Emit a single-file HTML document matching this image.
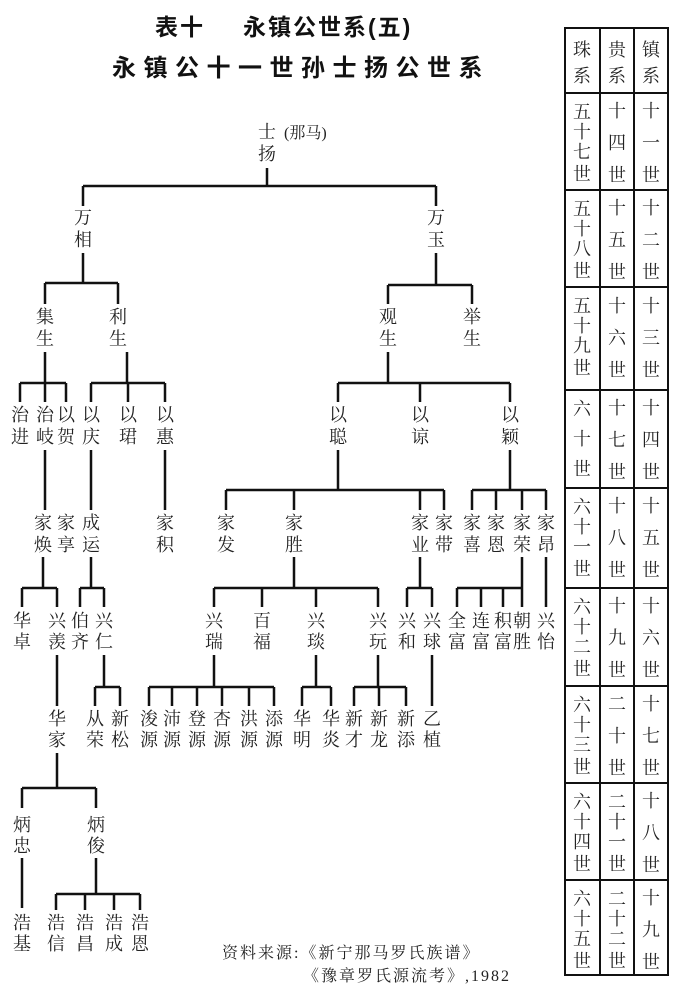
<!DOCTYPE html>
<html><head><meta charset="utf-8"><style>
html,body{margin:0;padding:0;background:#fff;}
svg{display:block}
text{font-family:"Liberation Serif","Noto Serif CJK SC",serif;fill:#222;}
.n{font-size:18px;text-anchor:middle;dominant-baseline:central;}
.t{font-family:"Liberation Sans","Noto Sans CJK SC",sans-serif;font-weight:bold;fill:#111;}
</style></head><body>
<svg width="675" height="1000" viewBox="0 0 675 1000" xmlns="http://www.w3.org/2000/svg">
<rect width="675" height="1000" fill="#fff"/>
<text class="t" x="155" y="35" font-size="23" letter-spacing="2">表十</text>
<text class="t" x="243" y="35" font-size="23" letter-spacing="2">永镇公世系(五)</text>
<text class="t" x="112" y="76" font-size="24" letter-spacing="7.5">永镇公十一世孙士扬公世系</text>

<g stroke="#111" stroke-width="2.5" fill="none">
<path d="M267 168V186M83 186H436M83 186V206M436 186V206"/>
<path d="M83 253V283M45 283H118M45 283V304M118 283V304"/>
<path d="M436 253V285M388 285H472M388 285V304M472 285V304"/>
<path d="M45 352V383M20 383H66M20 383V402M45 383V402M66 383V402"/>
<path d="M127 352V383M91 383H165M91 383V402M128 383V402M165 383V402"/>
<path d="M388 352V383M338 383H510M338 383V402M420 383V402M510 383V402"/>
<path d="M45 450V510M91 450V510M165 450V510"/>
<path d="M338 450V490M226 490H444M226 490V510M294 490V510M420 490V510M444 490V510"/>
<path d="M510 450V490M472 490H546M472 490V510M496 490V510M522 490V510M546 490V510"/>
<path d="M43 557V588M22 588H57M22 588V607M57 588V607"/>
<path d="M91 557V588M80 588H104M80 588V607M104 588V607"/>
<path d="M294 557V588M214 588H378M214 588V607M262 588V607M316 588V607M378 588V607"/>
<path d="M420 557V588M407 588H432M407 588V607M432 588V607"/>
<path d="M522 557V607M457 588H522M457 588V607M481 588V607M503 588V607"/>
<path d="M546 557V607"/>
<path d="M57 655V706M432 655V706"/>
<path d="M104 655V687M95 687H120M95 687V706M120 687V706"/>
<path d="M214 655V687M149 687H274M149 687V706M172 687V706M197 687V706M222 687V706M249 687V706M274 687V706"/>
<path d="M316 655V687M302 687H331M302 687V706M331 687V706"/>
<path d="M378 655V687M354 687H406M354 687V706M379 687V706M406 687V706"/>
<path d="M57 753V788M22 788H96M22 788V808M96 788V808"/>
<path d="M22 858V908M96 858V894M56 894H140M56 894V910M85 894V910M114 894V910M140 894V910"/>
</g>

<text class="n" x="267" y="132">士<tspan x="267" dy="22">扬</tspan></text>
<text x="284" y="138" font-size="16" style="text-anchor:start">(那马)</text>
<g>
<text class="n" x="83" y="218">万<tspan x="83" dy="22">相</tspan></text>
<text class="n" x="436" y="218">万<tspan x="436" dy="22">玉</tspan></text>
<text class="n" x="45" y="317">集<tspan x="45" dy="22">生</tspan></text>
<text class="n" x="118" y="317">利<tspan x="118" dy="22">生</tspan></text>
<text class="n" x="388" y="317">观<tspan x="388" dy="22">生</tspan></text>
<text class="n" x="472" y="317">举<tspan x="472" dy="22">生</tspan></text>
<text class="n" x="20" y="415">治<tspan x="20" dy="22">进</tspan></text>
<text class="n" x="45" y="415">治<tspan x="45" dy="22">岐</tspan></text>
<text class="n" x="66" y="415">以<tspan x="66" dy="22">贺</tspan></text>
<text class="n" x="91" y="415">以<tspan x="91" dy="22">庆</tspan></text>
<text class="n" x="128" y="415">以<tspan x="128" dy="22">珺</tspan></text>
<text class="n" x="165" y="415">以<tspan x="165" dy="22">惠</tspan></text>
<text class="n" x="338" y="415">以<tspan x="338" dy="22">聪</tspan></text>
<text class="n" x="420" y="415">以<tspan x="420" dy="22">谅</tspan></text>
<text class="n" x="510" y="415">以<tspan x="510" dy="22">颖</tspan></text>
<text class="n" x="43" y="523">家<tspan x="43" dy="22">焕</tspan></text>
<text class="n" x="66" y="523">家<tspan x="66" dy="22">享</tspan></text>
<text class="n" x="91" y="523">成<tspan x="91" dy="22">运</tspan></text>
<text class="n" x="165" y="523">家<tspan x="165" dy="22">积</tspan></text>
<text class="n" x="226" y="523">家<tspan x="226" dy="22">发</tspan></text>
<text class="n" x="294" y="523">家<tspan x="294" dy="22">胜</tspan></text>
<text class="n" x="420" y="523">家<tspan x="420" dy="22">业</tspan></text>
<text class="n" x="444" y="523">家<tspan x="444" dy="22">带</tspan></text>
<text class="n" x="472" y="523">家<tspan x="472" dy="22">喜</tspan></text>
<text class="n" x="496" y="523">家<tspan x="496" dy="22">恩</tspan></text>
<text class="n" x="522" y="523">家<tspan x="522" dy="22">荣</tspan></text>
<text class="n" x="546" y="523">家<tspan x="546" dy="22">昂</tspan></text>
<text class="n" x="22" y="621">华<tspan x="22" dy="21">卓</tspan></text>
<text class="n" x="57" y="621">兴<tspan x="57" dy="21">羡</tspan></text>
<text class="n" x="80" y="621">伯<tspan x="80" dy="21">齐</tspan></text>
<text class="n" x="104" y="621">兴<tspan x="104" dy="21">仁</tspan></text>
<text class="n" x="214" y="621">兴<tspan x="214" dy="21">瑞</tspan></text>
<text class="n" x="262" y="621">百<tspan x="262" dy="21">福</tspan></text>
<text class="n" x="316" y="621">兴<tspan x="316" dy="21">琰</tspan></text>
<text class="n" x="378" y="621">兴<tspan x="378" dy="21">玩</tspan></text>
<text class="n" x="407" y="621">兴<tspan x="407" dy="21">和</tspan></text>
<text class="n" x="432" y="621">兴<tspan x="432" dy="21">球</tspan></text>
<text class="n" x="457" y="621">全<tspan x="457" dy="21">富</tspan></text>
<text class="n" x="481" y="621">连<tspan x="481" dy="21">富</tspan></text>
<text class="n" x="503" y="621">积<tspan x="503" dy="21">富</tspan></text>
<text class="n" x="522" y="621">朝<tspan x="522" dy="21">胜</tspan></text>
<text class="n" x="546" y="621">兴<tspan x="546" dy="21">怡</tspan></text>
<text class="n" x="57" y="719">华<tspan x="57" dy="21">家</tspan></text>
<text class="n" x="95" y="719">从<tspan x="95" dy="21">荣</tspan></text>
<text class="n" x="120" y="719">新<tspan x="120" dy="21">松</tspan></text>
<text class="n" x="149" y="719">浚<tspan x="149" dy="21">源</tspan></text>
<text class="n" x="172" y="719">沛<tspan x="172" dy="21">源</tspan></text>
<text class="n" x="197" y="719">登<tspan x="197" dy="21">源</tspan></text>
<text class="n" x="222" y="719">杏<tspan x="222" dy="21">源</tspan></text>
<text class="n" x="249" y="719">洪<tspan x="249" dy="21">源</tspan></text>
<text class="n" x="274" y="719">添<tspan x="274" dy="21">源</tspan></text>
<text class="n" x="302" y="719">华<tspan x="302" dy="21">明</tspan></text>
<text class="n" x="331" y="719">华<tspan x="331" dy="21">炎</tspan></text>
<text class="n" x="354" y="719">新<tspan x="354" dy="21">才</tspan></text>
<text class="n" x="379" y="719">新<tspan x="379" dy="21">龙</tspan></text>
<text class="n" x="406" y="719">新<tspan x="406" dy="21">添</tspan></text>
<text class="n" x="432" y="719">乙<tspan x="432" dy="21">植</tspan></text>
<text class="n" x="22" y="825">炳<tspan x="22" dy="21">忠</tspan></text>
<text class="n" x="96" y="825">炳<tspan x="96" dy="21">俊</tspan></text>
<text class="n" x="22" y="923">浩<tspan x="22" dy="21">基</tspan></text>
<text class="n" x="56" y="923">浩<tspan x="56" dy="21">信</tspan></text>
<text class="n" x="85" y="923">浩<tspan x="85" dy="21">昌</tspan></text>
<text class="n" x="114" y="923">浩<tspan x="114" dy="21">成</tspan></text>
<text class="n" x="140" y="923">浩<tspan x="140" dy="21">恩</tspan></text>
</g>

<text x="222" y="958" font-size="16" letter-spacing="2">资料来源:《新宁那马罗氏族谱》</text>
<text x="303" y="981" font-size="16" letter-spacing="2">《豫章罗氏源流考》,1982</text>

<g stroke="#111" stroke-width="2" fill="none">
<rect x="565" y="28" width="103" height="947"/>
<path d="M600 28V975M634 28V975"/>
<path d="M565 93H668M565 190H668M565 287H668M565 390H668M565 488H668M565 588H668M565 686H668M565 783H668M565 880H668"/>
</g>
<g font-size="18">
<text class="n" x="582" y="50">珠<tspan x="582" dy="26">系</tspan></text>
<text class="n" x="617" y="50">贵<tspan x="617" dy="26">系</tspan></text>
<text class="n" x="651" y="50">镇<tspan x="651" dy="26">系</tspan></text>

<text class="n" x="582" y="112">五<tspan x="582" dy="20">十</tspan><tspan x="582" dy="20">七</tspan><tspan x="582" dy="22">世</tspan></text>
<text class="n" x="582" y="209">五<tspan x="582" dy="20">十</tspan><tspan x="582" dy="20">八</tspan><tspan x="582" dy="22">世</tspan></text>
<text class="n" x="582" y="306">五<tspan x="582" dy="20">十</tspan><tspan x="582" dy="20">九</tspan><tspan x="582" dy="22">世</tspan></text>
<text class="n" x="582" y="409">六<tspan x="582" dy="30">十</tspan><tspan x="582" dy="30">世</tspan></text>
<text class="n" x="582" y="507">六<tspan x="582" dy="20">十</tspan><tspan x="582" dy="20">一</tspan><tspan x="582" dy="22">世</tspan></text>
<text class="n" x="582" y="607">六<tspan x="582" dy="20">十</tspan><tspan x="582" dy="20">二</tspan><tspan x="582" dy="22">世</tspan></text>
<text class="n" x="582" y="705">六<tspan x="582" dy="20">十</tspan><tspan x="582" dy="20">三</tspan><tspan x="582" dy="22">世</tspan></text>
<text class="n" x="582" y="802">六<tspan x="582" dy="20">十</tspan><tspan x="582" dy="20">四</tspan><tspan x="582" dy="22">世</tspan></text>
<text class="n" x="582" y="899">六<tspan x="582" dy="20">十</tspan><tspan x="582" dy="20">五</tspan><tspan x="582" dy="22">世</tspan></text>

<text class="n" x="617" y="111">十<tspan x="617" dy="32">四</tspan><tspan x="617" dy="32">世</tspan></text>
<text class="n" x="617" y="208">十<tspan x="617" dy="32">五</tspan><tspan x="617" dy="32">世</tspan></text>
<text class="n" x="617" y="306">十<tspan x="617" dy="32">六</tspan><tspan x="617" dy="32">世</tspan></text>
<text class="n" x="617" y="408">十<tspan x="617" dy="32">七</tspan><tspan x="617" dy="32">世</tspan></text>
<text class="n" x="617" y="506">十<tspan x="617" dy="32">八</tspan><tspan x="617" dy="32">世</tspan></text>
<text class="n" x="617" y="606">十<tspan x="617" dy="32">九</tspan><tspan x="617" dy="32">世</tspan></text>
<text class="n" x="617" y="704">二<tspan x="617" dy="32">十</tspan><tspan x="617" dy="32">世</tspan></text>
<text class="n" x="617" y="802">二<tspan x="617" dy="20">十</tspan><tspan x="617" dy="20">一</tspan><tspan x="617" dy="22">世</tspan></text>
<text class="n" x="617" y="899">二<tspan x="617" dy="20">十</tspan><tspan x="617" dy="20">二</tspan><tspan x="617" dy="22">世</tspan></text>

<text class="n" x="651" y="111">十<tspan x="651" dy="32">一</tspan><tspan x="651" dy="32">世</tspan></text>
<text class="n" x="651" y="208">十<tspan x="651" dy="32">二</tspan><tspan x="651" dy="32">世</tspan></text>
<text class="n" x="651" y="306">十<tspan x="651" dy="32">三</tspan><tspan x="651" dy="32">世</tspan></text>
<text class="n" x="651" y="408">十<tspan x="651" dy="32">四</tspan><tspan x="651" dy="32">世</tspan></text>
<text class="n" x="651" y="506">十<tspan x="651" dy="32">五</tspan><tspan x="651" dy="32">世</tspan></text>
<text class="n" x="651" y="606">十<tspan x="651" dy="32">六</tspan><tspan x="651" dy="32">世</tspan></text>
<text class="n" x="651" y="704">十<tspan x="651" dy="32">七</tspan><tspan x="651" dy="32">世</tspan></text>
<text class="n" x="651" y="801">十<tspan x="651" dy="32">八</tspan><tspan x="651" dy="32">世</tspan></text>
<text class="n" x="651" y="898">十<tspan x="651" dy="32">九</tspan><tspan x="651" dy="32">世</tspan></text>
</g>
</svg>
</body></html>
